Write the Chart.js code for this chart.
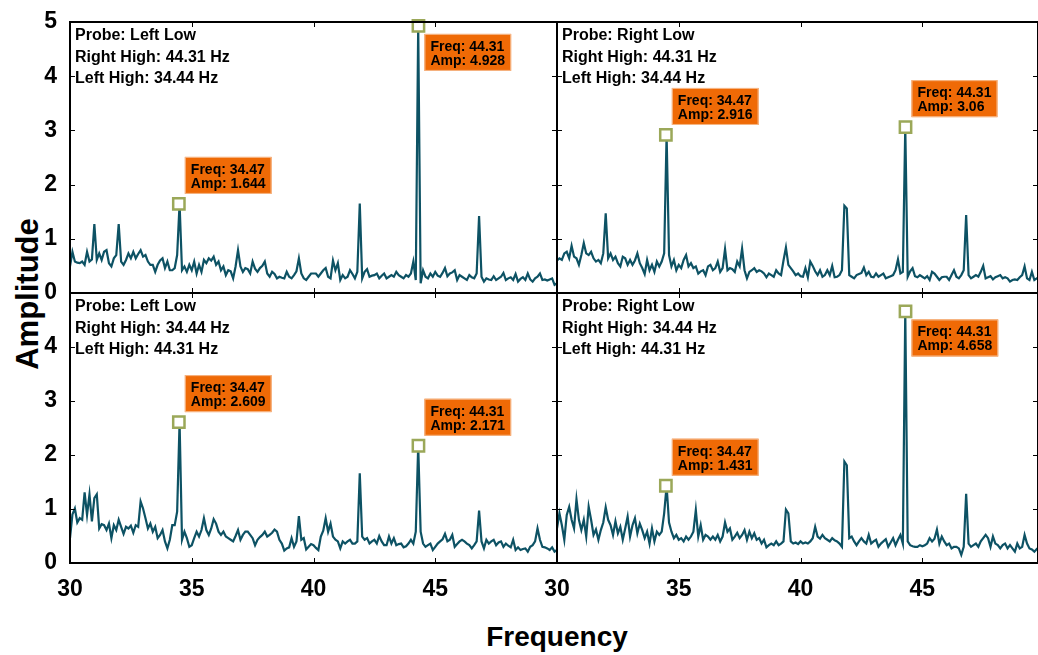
<!DOCTYPE html>
<html>
<head>
<meta charset="utf-8">
<title>Probe spectra</title>
<script src="https://cdn.jsdelivr.net/npm/chart.js@4.4.1/dist/chart.umd.min.js"></script>
<style>
  html, body { margin: 0; padding: 0; background: #fff; }
  #fig { position: relative; width: 1038px; height: 655px; overflow: hidden; }
  #fig canvas { position: absolute; left: 0; top: 0; }
  .axis-title { position: absolute; font-weight: bold; color: #000; white-space: nowrap; line-height: 1;
                font-family: 'Liberation Sans', Arial, sans-serif; }
  #ylab { left: 27px; top: 294px; font-size: 31px; transform: translate(-50%, -50%) rotate(-90deg); }
  #xlab { left: 557px; top: 637px; font-size: 28px; transform: translate(-50%, -50%); }
</style>
</head>
<body>
<div id="fig">
  <div id="ylab" class="axis-title">Amplitude</div>
  <div id="xlab" class="axis-title">Frequency</div>
</div>
<script>
// FFT bins: 30 Hz upward, 0.1 Hz spacing
const freqStart = 30;
const binHz = 0.1;

const freqTicks = [30, 35, 40, 45];
const ampTicksTop = [0, 1, 2, 3, 4, 5];
const ampTicksBottom = [0, 1, 2, 3, 4];

// marked peaks (data tips)
const peakFreq = [34.47, 44.31];
const peakAmpLeftLowA = [1.644, 4.928];
const peakAmpRightLowA = [2.916, 3.06];
const peakAmpLeftLowB = [2.609, 2.171];
const peakAmpRightLowB = [1.431, 4.658];

// probe Left Low, right high 44.31 Hz / left high 34.44 Hz
const ampLeftLowA = [
  0.49, 0.76, 0.58, 0.56, 0.55, 0.58, 0.52, 0.76, 0.58, 0.62,
  1.27, 0.61, 0.73, 0.61, 0.76, 0.79, 0.55, 0.49, 0.64, 0.70,
  1.27, 0.58, 0.52, 0.61, 0.73, 0.64, 0.76, 0.64, 0.72, 0.79,
  0.67, 0.70, 0.58, 0.52, 0.52, 0.39, 0.52, 0.60, 0.64, 0.46,
  0.58, 0.42, 0.42, 0.46, 0.70, 1.644, 0.42, 0.49, 0.39, 0.52,
  0.42, 0.58, 0.36, 0.52, 0.39, 0.61, 0.55, 0.64, 0.60, 0.67,
  0.52, 0.58, 0.42, 0.49, 0.33, 0.42, 0.40, 0.27, 0.49, 0.79,
  0.49, 0.39, 0.46, 0.44, 0.36, 0.58, 0.45, 0.39, 0.46, 0.50,
  0.58, 0.36, 0.30, 0.39, 0.35, 0.27, 0.30, 0.28, 0.27, 0.39,
  0.30, 0.27, 0.33, 0.40, 0.64, 0.36, 0.27, 0.24, 0.30, 0.36,
  0.36, 0.36, 0.30, 0.36, 0.42, 0.46, 0.30, 0.27, 0.60, 0.42,
  0.55, 0.24, 0.33, 0.27, 0.30, 0.42, 0.35, 0.27, 0.39, 1.65,
  0.27, 0.39, 0.44, 0.30, 0.32, 0.33, 0.36, 0.27, 0.32, 0.36,
  0.27, 0.30, 0.33, 0.30, 0.39, 0.33, 0.30, 0.27, 0.33, 0.30,
  0.36, 0.58, 0.24, 4.928, 0.18, 0.42, 0.30, 0.27, 0.36, 0.30,
  0.39, 0.32, 0.30, 0.37, 0.46, 0.31, 0.36, 0.38, 0.42, 0.24,
  0.33, 0.30, 0.27, 0.24, 0.33, 0.29, 0.27, 0.36, 1.42, 0.30,
  0.21, 0.27, 0.25, 0.24, 0.31, 0.24, 0.27, 0.30, 0.37, 0.24,
  0.27, 0.29, 0.24, 0.35, 0.21, 0.26, 0.29, 0.24, 0.36, 0.25,
  0.21, 0.27, 0.30, 0.36, 0.24, 0.25, 0.23, 0.25, 0.27, 0.15,
  0.18
];

// probe Right Low, right high 44.31 Hz / left high 34.44 Hz
const ampRightLowA = [
  0.60, 0.64, 0.61, 0.73, 0.76, 0.64, 0.87, 0.67, 0.64, 0.52,
  0.70, 0.92, 0.73, 0.70, 0.76, 0.64, 0.58, 0.61, 0.55, 0.73,
  1.47, 0.64, 0.73, 0.61, 0.67, 0.55, 0.49, 0.67, 0.64, 0.52,
  0.61, 0.52, 0.60, 0.73, 0.55, 0.46, 0.35, 0.61, 0.42, 0.52,
  0.39, 0.58, 0.49, 0.58, 0.73, 2.916, 0.70, 0.49, 0.61, 0.42,
  0.52, 0.46, 0.61, 0.70, 0.49, 0.55, 0.46, 0.49, 0.36, 0.40,
  0.42, 0.33, 0.49, 0.52, 0.42, 0.46, 0.58, 0.39, 0.46, 0.81,
  0.42, 0.46, 0.44, 0.39, 0.58, 0.49, 0.82, 0.42, 0.27, 0.39,
  0.42, 0.46, 0.39, 0.42, 0.40, 0.36, 0.29, 0.36, 0.33, 0.30,
  0.42, 0.36, 0.33, 0.60, 0.84, 0.52, 0.46, 0.40, 0.33, 0.36,
  0.31, 0.30, 0.46, 0.29, 0.58, 0.50, 0.40, 0.33, 0.42, 0.30,
  0.33, 0.42, 0.33, 0.50, 0.29, 0.30, 0.33, 0.42, 1.61, 1.56,
  0.33, 0.30, 0.27, 0.33, 0.35, 0.37, 0.47, 0.33, 0.39, 0.30,
  0.29, 0.36, 0.30, 0.33, 0.36, 0.27, 0.29, 0.31, 0.33, 0.42,
  0.62, 0.36, 0.39, 3.06, 0.30, 0.40, 0.46, 0.31, 0.29, 0.33,
  0.30, 0.27, 0.31, 0.24, 0.39, 0.36, 0.30, 0.24, 0.29, 0.30,
  0.30, 0.24, 0.33, 0.42, 0.30, 0.27, 0.33, 0.42, 1.44, 0.33,
  0.27, 0.30, 0.33, 0.30, 0.39, 0.50, 0.27, 0.29, 0.31, 0.25,
  0.29, 0.31, 0.33, 0.27, 0.29, 0.27, 0.21, 0.24, 0.25, 0.24,
  0.29, 0.33, 0.49, 0.27, 0.24, 0.39, 0.24, 0.27, 0.30, 0.28,
  0.26
];

// probe Left Low, right high 34.44 Hz / left high 44.31 Hz
const ampLeftLowB = [
  0.46, 0.90, 1.01, 0.75, 0.83, 0.80, 1.31, 0.89, 1.27, 0.77,
  1.20, 1.27, 0.64, 0.72, 0.70, 0.61, 0.73, 0.46, 0.70, 0.61,
  0.80, 0.67, 0.54, 0.67, 0.64, 0.69, 0.56, 0.70, 0.67, 1.14,
  1.01, 0.83, 0.64, 0.73, 0.58, 0.67, 0.46, 0.52, 0.61, 0.40,
  0.27, 0.43, 0.70, 0.70, 0.95, 2.609, 0.43, 0.58, 0.46, 0.30,
  0.33, 0.46, 0.58, 0.49, 0.61, 0.83, 0.61, 0.52, 0.64, 0.81,
  0.73, 0.58, 0.52, 0.58, 0.49, 0.46, 0.43, 0.40, 0.50, 0.61,
  0.43, 0.52, 0.58, 0.58, 0.52, 0.46, 0.33, 0.43, 0.48, 0.52,
  0.58, 0.49, 0.52, 0.56, 0.62, 0.58, 0.43, 0.36, 0.23, 0.27,
  0.29, 0.46, 0.30, 0.40, 0.87, 0.43, 0.46, 0.25, 0.30, 0.35,
  0.33, 0.28, 0.24, 0.49, 0.60, 0.83, 0.58, 0.73, 0.49, 0.43,
  0.40, 0.27, 0.40, 0.36, 0.40, 0.43, 0.36, 0.36, 0.40, 1.66,
  0.49, 0.43, 0.46, 0.36, 0.40, 0.43, 0.36, 0.50, 0.40, 0.33,
  0.33, 0.49, 0.36, 0.46, 0.33, 0.35, 0.36, 0.29, 0.31, 0.36,
  0.43, 0.36, 0.58, 2.171, 0.58, 0.36, 0.30, 0.33, 0.36, 0.24,
  0.30, 0.36, 0.40, 0.44, 0.54, 0.40, 0.43, 0.52, 0.30, 0.35,
  0.40, 0.43, 0.40, 0.36, 0.33, 0.27, 0.33, 0.40, 0.97, 0.40,
  0.27, 0.43, 0.36, 0.40, 0.43, 0.33, 0.38, 0.40, 0.30, 0.36,
  0.32, 0.29, 0.43, 0.24, 0.29, 0.24, 0.26, 0.27, 0.21, 0.30,
  0.33, 0.40, 0.64, 0.43, 0.30, 0.29, 0.27, 0.24, 0.29, 0.21,
  0.24
];

// probe Right Low, right high 34.44 Hz / left high 44.31 Hz
const ampRightLowB = [
  0.64, 0.92, 0.70, 0.43, 0.89, 1.04, 0.80, 0.64, 1.18, 0.80,
  0.61, 0.80, 0.49, 1.04, 0.80, 0.52, 0.62, 0.43, 0.61, 0.75,
  1.03, 0.80, 0.70, 0.52, 0.77, 0.55, 0.67, 0.43, 0.64, 0.86,
  0.49, 0.70, 0.83, 0.55, 0.73, 0.61, 0.46, 0.58, 0.36, 0.64,
  0.40, 0.58, 0.52, 0.58, 0.92, 1.431, 0.75, 0.58, 0.46, 0.52,
  0.43, 0.46, 0.40, 0.49, 0.43, 0.49, 0.58, 0.98, 0.49, 0.70,
  0.43, 0.52, 0.49, 0.43, 0.49, 0.43, 0.52, 0.40, 0.49, 0.75,
  0.58, 0.64, 0.43, 0.49, 0.56, 0.46, 0.52, 0.61, 0.43, 0.58,
  0.46, 0.55, 0.43, 0.46, 0.36, 0.43, 0.29, 0.33, 0.36, 0.33,
  0.40, 0.33, 0.36, 0.40, 0.99, 0.92, 0.40, 0.36, 0.38, 0.35,
  0.40, 0.36, 0.38, 0.36, 0.40, 0.46, 0.67, 0.49, 0.45, 0.52,
  0.46, 0.43, 0.40, 0.46, 0.42, 0.40, 0.36, 0.30, 1.88, 1.81,
  0.46, 0.49, 0.40, 0.33, 0.40, 0.46, 0.40, 0.36, 0.52, 0.36,
  0.40, 0.43, 0.30, 0.36, 0.40, 0.44, 0.30, 0.38, 0.46, 0.33,
  0.43, 0.52, 0.36, 4.658, 0.40, 0.33, 0.31, 0.30, 0.30, 0.33,
  0.31, 0.33, 0.36, 0.46, 0.40, 0.45, 0.62, 0.36, 0.49, 0.40,
  0.33, 0.36, 0.27, 0.30, 0.30, 0.27, 0.15, 0.30, 1.28, 0.36,
  0.30, 0.33, 0.36, 0.30, 0.40, 0.46, 0.52, 0.46, 0.30, 0.49,
  0.36, 0.33, 0.27, 0.33, 0.36, 0.27, 0.33, 0.27, 0.21, 0.36,
  0.27, 0.30, 0.52, 0.36, 0.27, 0.25, 0.21, 0.26, 0.30, 0.28,
  0.26
];

const freq = ampLeftLowA.map((_, i) => +(freqStart + i * binHz).toFixed(1));

const W = 1038, H = 655;
const lineColor = '#0d5264';
const tipFill = '#ef6a06';
const tipEdge = '#f6b889';
const markerColor = '#9ba859';
const fontFamily = "'Liberation Sans', Arial, sans-serif";
const Y_AXIS_W = 70;
const X_AXIS_H = 40;

const panels = [
  { amp: ampLeftLowA, peaks: peakAmpLeftLowA, info: ['Probe: Left Low', 'Right High: 44.31 Hz', 'Left High: 34.44 Hz'],
    area: { left: 70, top: 22, right: 557, bottom: 293 }, xMax: 50, showX: false, showY: true,
    yTicks: ampTicksTop, tipSide: ['up', 'down'] },
  { amp: ampRightLowA, peaks: peakAmpRightLowA, info: ['Probe: Right Low', 'Right High: 44.31 Hz', 'Left High: 34.44 Hz'],
    area: { left: 557, top: 22, right: 1038, bottom: 293 }, xMax: 49.75, showX: false, showY: false,
    yTicks: ampTicksTop, tipSide: ['up', 'up'] },
  { amp: ampLeftLowB, peaks: peakAmpLeftLowB, info: ['Probe: Left Low', 'Right High: 34.44 Hz', 'Left High: 44.31 Hz'],
    area: { left: 70, top: 293, right: 557, bottom: 563 }, xMax: 50, showX: true, showY: true,
    yTicks: ampTicksBottom, tipSide: ['up', 'up'] },
  { amp: ampRightLowB, peaks: peakAmpRightLowB, info: ['Probe: Right Low', 'Right High: 34.44 Hz', 'Left High: 44.31 Hz'],
    area: { left: 557, top: 293, right: 1038, bottom: 563 }, xMax: 49.75, showX: true, showY: false,
    yTicks: ampTicksBottom, tipSide: ['up', 'down'] }
];

// frame, inward tick marks, info text and data-tip boxes
const panelDecor = {
  id: 'panelDecor',
  afterDatasetsDraw(chart) {
    const { ctx, chartArea: a, scales: { x, y } } = chart;
    ctx.save();
    ctx.strokeStyle = '#000';
    ctx.lineWidth = 1;
    ctx.beginPath();
    freqTicks.forEach(v => {
      if (v <= x.min || v >= x.max) return;
      const px = Math.round(x.getPixelForValue(v)) + 0.5;
      ctx.moveTo(px, a.bottom); ctx.lineTo(px, a.bottom - 5);
      ctx.moveTo(px, a.top); ctx.lineTo(px, a.top + 5);
    });
    ampTicksTop.forEach(v => {
      if (v <= y.min || v >= y.max) return;
      const py = Math.round(y.getPixelForValue(v)) + 0.5;
      ctx.moveTo(a.left, py); ctx.lineTo(a.left + 5, py);
      ctx.moveTo(a.right, py); ctx.lineTo(a.right - 5, py);
    });
    ctx.stroke();
    ctx.lineWidth = 2;
    ctx.strokeRect(a.left, a.top, a.right - a.left, a.bottom - a.top);
    ctx.restore();
  },
  afterDraw(chart, args, opts) {
    const { ctx, chartArea: a } = chart;
    const p = opts.panel;
    ctx.save();
    ctx.fillStyle = '#000';
    ctx.textBaseline = 'alphabetic';
    ctx.font = 'bold 16px ' + fontFamily;
    p.info.forEach((t, k) => ctx.fillText(t, a.left + 5, a.top + 18 + k * 21.5));

    ctx.font = 'bold 14px ' + fontFamily;
    const meta = chart.getDatasetMeta(1);
    meta.data.forEach((pt, k) => {
      const lines = ['Freq: ' + peakFreq[k], 'Amp: ' + p.peaks[k]];
      const w = Math.max(...lines.map(t => ctx.measureText(t).width)) + 12;
      const h = 37;
      const bx = pt.x + 6;
      const by = p.tipSide[k] === 'down' ? pt.y + 8 : pt.y - 10 - h;
      ctx.fillStyle = tipFill;
      ctx.fillRect(bx, by, w, h);
      ctx.strokeStyle = tipEdge;
      ctx.lineWidth = 1;
      ctx.strokeRect(bx + 0.5, by + 0.5, w - 1, h - 1);
      ctx.fillStyle = '#000';
      ctx.fillText(lines[0], bx + 6, by + 17);
      ctx.fillText(lines[1], bx + 6, by + 31);
    });
    ctx.restore();
  }
};

const fig = document.getElementById('fig');
const tickFont = { family: fontFamily, size: 23, weight: 'bold' };

panels.forEach(p => {
  const canvas = document.createElement('canvas');
  canvas.width = W;
  canvas.height = H;
  fig.appendChild(canvas);

  new Chart(canvas, {
    type: 'line',
    data: {
      datasets: [
        {
          data: p.amp.map((v, i) => ({ x: freq[i], y: v })),
          borderColor: lineColor,
          borderWidth: 2.2,
          pointRadius: 0,
          tension: 0,
          order: 2
        },
        {
          data: peakFreq.map((f, k) => ({ x: f, y: p.peaks[k] })),
          showLine: false,
          pointStyle: 'rect',
          pointRadius: 8,
          pointBorderWidth: 2.5,
          pointBorderColor: markerColor,
          pointBackgroundColor: '#fff',
          clip: false,
          order: 1
        }
      ]
    },
    options: {
      responsive: false,
      animation: false,
      devicePixelRatio: 1,
      events: [],
      layout: {
        autoPadding: false,
        padding: {
          left: p.showY ? p.area.left - Y_AXIS_W : p.area.left,
          top: p.area.top,
          right: W - p.area.right,
          bottom: H - p.area.bottom - (p.showX ? X_AXIS_H : 0)
        }
      },
      plugins: {
        legend: { display: false },
        tooltip: { enabled: false },
        panelDecor: { panel: p }
      },
      scales: {
        x: {
          type: 'linear',
          min: 30,
          max: p.xMax,
          display: p.showX,
          grid: { display: false },
          border: { display: false },
          afterBuildTicks: s => { s.ticks = freqTicks.map(v => ({ value: v })); },
          afterFit: s => { s.height = p.showX ? X_AXIS_H : 0; },
          ticks: { padding: 5, color: '#000', font: tickFont, maxRotation: 0, autoSkip: false }
        },
        y: {
          min: 0,
          max: 5,
          display: p.showY,
          grid: { display: false },
          border: { display: false },
          afterBuildTicks: s => { s.ticks = p.yTicks.map(v => ({ value: v })); },
          afterFit: s => { s.width = p.showY ? Y_AXIS_W : 0; },
          ticks: { padding: 5, color: '#000', font: tickFont, autoSkip: false }
        }
      }
    },
    plugins: [panelDecor]
  });
});
</script>
</body>
</html>
